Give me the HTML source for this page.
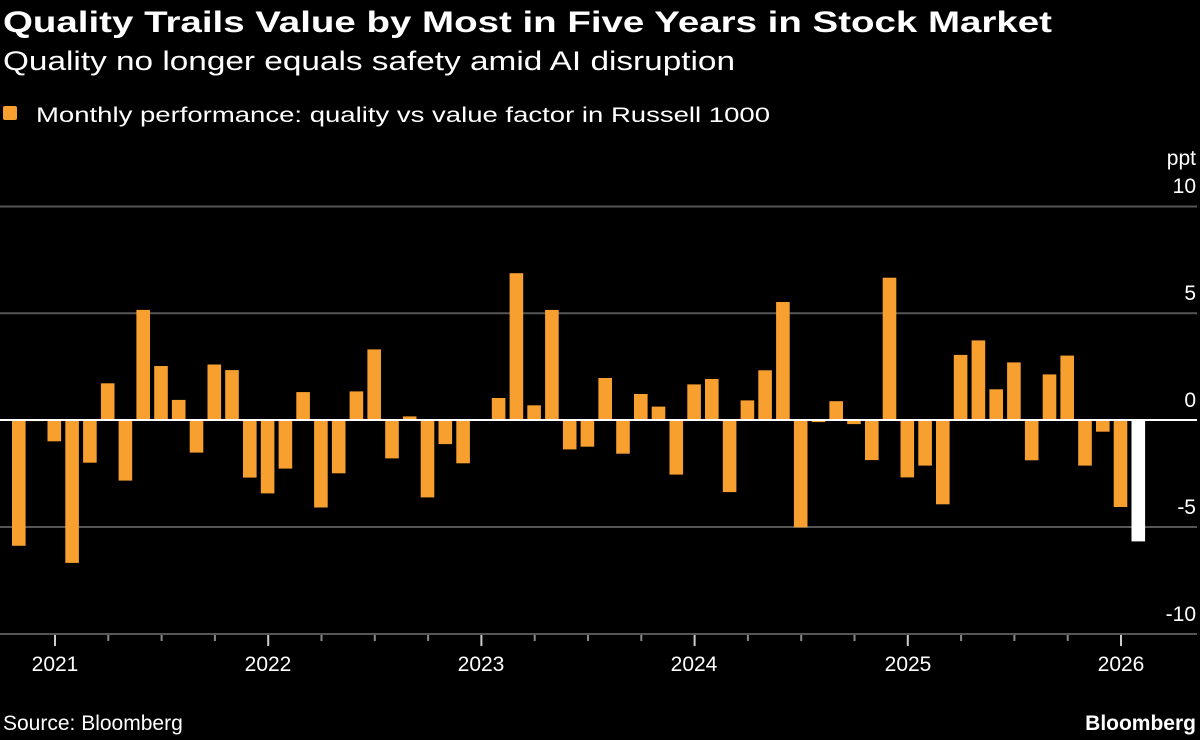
<!DOCTYPE html>
<html><head><meta charset="utf-8"><style>
html,body{margin:0;padding:0;background:#000;}
svg{display:block;font-family:"Liberation Sans",sans-serif;}
</style></head><body>
<svg width="1200" height="740" viewBox="0 0 1200 740" xmlns="http://www.w3.org/2000/svg">
<rect width="1200" height="740" fill="#000"/>
<text x="3" y="32" fill="#fff" font-size="30" font-weight="bold" textLength="1049" lengthAdjust="spacingAndGlyphs">Quality Trails Value by Most in Five Years in Stock Market</text>
<text x="3" y="70" fill="#fff" font-size="27" textLength="732" lengthAdjust="spacingAndGlyphs">Quality no longer equals safety amid AI disruption</text>
<rect x="3" y="106" width="14" height="14" rx="2" fill="#f7a030"/>
<text x="36" y="122" fill="#fff" font-size="21" textLength="734" lengthAdjust="spacingAndGlyphs">Monthly performance: quality vs value factor in Russell 1000</text>
<g stroke="#555" stroke-width="2">
<line x1="0" y1="206.5" x2="1197" y2="206.5"/>
<line x1="0" y1="313.3" x2="1197" y2="313.3"/>
<line x1="0" y1="527" x2="1197" y2="527"/>
<line x1="0" y1="634" x2="1197" y2="634"/>
</g>
<g fill="#fff" font-size="21" text-anchor="end">
<text x="1196" y="165">ppt</text>
<text x="1196" y="193">10</text>
<text x="1196" y="300">5</text>
<text x="1196" y="407">0</text>
<text x="1196" y="514">-5</text>
<text x="1196" y="621">-10</text>
</g>
<g fill="#f7a030">
<rect x="12.0" y="420" width="13.6" height="125.8"/>
<rect x="29.8" y="420" width="13.6" height="1.1"/>
<rect x="47.5" y="420" width="13.6" height="21.3"/>
<rect x="65.3" y="420" width="13.6" height="142.9"/>
<rect x="83.1" y="420" width="13.6" height="42.7"/>
<rect x="100.9" y="383.3" width="13.6" height="36.7"/>
<rect x="118.6" y="420" width="13.6" height="60.6"/>
<rect x="136.4" y="309.9" width="13.6" height="110.1"/>
<rect x="154.2" y="366.0" width="13.6" height="54.0"/>
<rect x="171.9" y="399.9" width="13.6" height="20.1"/>
<rect x="189.7" y="420" width="13.6" height="32.6"/>
<rect x="207.5" y="364.5" width="13.6" height="55.5"/>
<rect x="225.2" y="370.1" width="13.6" height="49.9"/>
<rect x="243.0" y="420" width="13.6" height="57.6"/>
<rect x="260.8" y="420" width="13.6" height="73.4"/>
<rect x="278.6" y="420" width="13.6" height="48.6"/>
<rect x="296.3" y="392.1" width="13.6" height="27.9"/>
<rect x="314.1" y="420" width="13.6" height="87.5"/>
<rect x="331.9" y="420" width="13.6" height="53.3"/>
<rect x="349.6" y="391.4" width="13.6" height="28.6"/>
<rect x="367.4" y="349.4" width="13.6" height="70.6"/>
<rect x="385.2" y="420" width="13.6" height="38.4"/>
<rect x="402.9" y="416.4" width="13.6" height="3.6"/>
<rect x="420.7" y="420" width="13.6" height="77.4"/>
<rect x="438.5" y="420" width="13.6" height="24.1"/>
<rect x="456.3" y="420" width="13.6" height="43.3"/>
<rect x="491.8" y="398.0" width="13.6" height="22.0"/>
<rect x="509.6" y="273.2" width="13.6" height="146.8"/>
<rect x="527.3" y="405.3" width="13.6" height="14.7"/>
<rect x="545.1" y="309.9" width="13.6" height="110.1"/>
<rect x="562.9" y="420" width="13.6" height="29.4"/>
<rect x="580.6" y="420" width="13.6" height="26.7"/>
<rect x="598.4" y="378.0" width="13.6" height="42.0"/>
<rect x="616.2" y="420" width="13.6" height="33.7"/>
<rect x="634.0" y="394.0" width="13.6" height="26.0"/>
<rect x="651.7" y="406.6" width="13.6" height="13.4"/>
<rect x="669.5" y="420" width="13.6" height="54.6"/>
<rect x="687.3" y="384.4" width="13.6" height="35.6"/>
<rect x="705.0" y="379.0" width="13.6" height="41.0"/>
<rect x="722.8" y="420" width="13.6" height="72.1"/>
<rect x="740.6" y="400.4" width="13.6" height="19.6"/>
<rect x="758.3" y="370.3" width="13.6" height="49.7"/>
<rect x="776.1" y="302.0" width="13.6" height="118.0"/>
<rect x="793.9" y="420" width="13.6" height="107.3"/>
<rect x="811.7" y="420" width="13.6" height="2.1"/>
<rect x="829.4" y="401.2" width="13.6" height="18.8"/>
<rect x="847.2" y="420" width="13.6" height="4.1"/>
<rect x="865.0" y="420" width="13.6" height="40.1"/>
<rect x="882.7" y="277.7" width="13.6" height="142.3"/>
<rect x="900.5" y="420" width="13.6" height="57.4"/>
<rect x="918.3" y="420" width="13.6" height="45.6"/>
<rect x="936.0" y="420" width="13.6" height="84.3"/>
<rect x="953.8" y="354.9" width="13.6" height="65.1"/>
<rect x="971.6" y="340.4" width="13.6" height="79.6"/>
<rect x="989.4" y="389.3" width="13.6" height="30.7"/>
<rect x="1007.1" y="362.4" width="13.6" height="57.6"/>
<rect x="1024.9" y="420" width="13.6" height="40.3"/>
<rect x="1042.7" y="374.4" width="13.6" height="45.6"/>
<rect x="1060.4" y="355.6" width="13.6" height="64.4"/>
<rect x="1078.2" y="420" width="13.6" height="45.6"/>
<rect x="1096.0" y="420" width="13.6" height="11.7"/>
<rect x="1113.7" y="420" width="13.6" height="87.0"/>
</g>
<rect x="1131.5" y="420" width="13.6" height="121.4" fill="#fff"/>
<line x1="0" y1="420" x2="1197" y2="420" stroke="#fff" stroke-width="2"/>
<g stroke="#888" stroke-width="2">
<line x1="108.3" y1="635" x2="108.3" y2="641"/>
<line x1="161.6" y1="635" x2="161.6" y2="641"/>
<line x1="214.9" y1="635" x2="214.9" y2="641"/>
<line x1="321.5" y1="635" x2="321.5" y2="641"/>
<line x1="374.8" y1="635" x2="374.8" y2="641"/>
<line x1="428.1" y1="635" x2="428.1" y2="641"/>
<line x1="534.7" y1="635" x2="534.7" y2="641"/>
<line x1="588" y1="635" x2="588" y2="641"/>
<line x1="641.3" y1="635" x2="641.3" y2="641"/>
<line x1="747.9" y1="635" x2="747.9" y2="641"/>
<line x1="801.2" y1="635" x2="801.2" y2="641"/>
<line x1="854.5" y1="635" x2="854.5" y2="641"/>
<line x1="961.1" y1="635" x2="961.1" y2="641"/>
<line x1="1014.4" y1="635" x2="1014.4" y2="641"/>
<line x1="1067.7" y1="635" x2="1067.7" y2="641"/>
</g>
<g stroke="#ccc" stroke-width="2">
<line x1="55" y1="635" x2="55" y2="646"/>
<line x1="268.2" y1="635" x2="268.2" y2="646"/>
<line x1="481.4" y1="635" x2="481.4" y2="646"/>
<line x1="694.6" y1="635" x2="694.6" y2="646"/>
<line x1="907.8" y1="635" x2="907.8" y2="646"/>
<line x1="1121" y1="635" x2="1121" y2="646"/>
</g>
<g fill="#fff" font-size="21" text-anchor="middle">
<text x="55" y="671">2021</text>
<text x="268" y="671">2022</text>
<text x="481" y="671">2023</text>
<text x="694" y="671">2024</text>
<text x="908" y="671">2025</text>
<text x="1121" y="671">2026</text>
</g>
<text x="3" y="730" fill="#fff" font-size="21">Source: Bloomberg</text>
<text x="1196" y="730" fill="#fff" font-size="21" font-weight="bold" text-anchor="end">Bloomberg</text>
</svg>
</body></html>
